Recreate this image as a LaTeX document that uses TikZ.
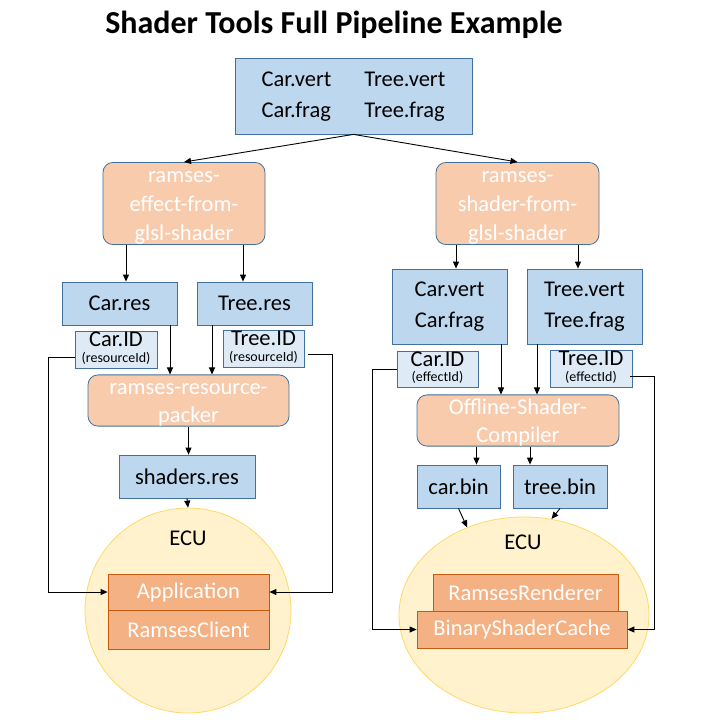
\documentclass[tikz,border=0pt]{standalone}
\usepackage{fontspec}
\setmainfont{Carlito}
\usetikzlibrary{arrows.meta,shapes.geometric}
\definecolor{boxblue}{HTML}{BDD7EE}
\definecolor{idblue}{HTML}{DEEBF7}
\definecolor{edgeblue}{HTML}{41719C}
\definecolor{toolorange}{HTML}{F8CBAD}
\definecolor{apporange}{HTML}{F4B183}
\definecolor{appedge}{HTML}{C55A11}
\definecolor{ecufill}{HTML}{FFF2CC}
\definecolor{ecuedge}{HTML}{FFD966}
\newcommand{\idtext}[2]{{\fontsize{14}{14}\selectfont\begin{tabular}{@{}c@{}}{\fontsize{22.5}{22.5}\selectfont #1}\\[1pt](#2)\end{tabular}}}
\begin{document}
\begin{tikzpicture}[x=1pt,y=-1pt,
  file/.style={draw=edgeblue,fill=boxblue,line width=0.8pt,inner sep=0pt,align=center,font=\fontsize{22.5}{31}\selectfont},
  idbox/.style={draw=edgeblue,fill=idblue,line width=0.8pt,inner sep=0pt},
  tool/.style={draw=edgeblue,fill=toolorange,rounded corners=10pt,line width=0.8pt,inner sep=0pt,text=white,align=center,font=\fontsize{22.5}{28}\selectfont},
  ecu/.style={ellipse,draw=ecuedge,fill=ecufill,line width=0.8pt,inner sep=0pt},
  part/.style={draw=appedge,fill=apporange,line width=0.8pt,inner sep=0pt,text=white,font=\fontsize{22.5}{27}\selectfont},
  arr/.style={-{Triangle[length=7pt,width=6pt]},line width=0.9pt}]
\useasboundingbox (0,0) rectangle (704,720);
\node[anchor=base,font=\fontsize{32}{38}\selectfont\bfseries] (title) at (334,33) {Shader Tools Full Pipeline Example};
% sources and the two converters
\node[file,minimum width=237pt,minimum height=76pt] (src) at (353.5,96) {\begin{tabular}{@{}l@{\hspace{33pt}}l@{}}Car.vert & Tree.vert\\Car.frag & Tree.frag\end{tabular}};
\node[tool,minimum width=162pt,minimum height=81pt,font=\fontsize{22.5}{29}\selectfont] (effect) at (184,203.5) {\strut ramses-\\effect-from-\\glsl-shader};
\node[tool,minimum width=163pt,minimum height=81pt,font=\fontsize{22.5}{29}\selectfont] (shader) at (517.5,203.5) {\strut ramses-\\shader-from-\\glsl-shader};
\draw[arr] (src.south) -- (effect.north);
\draw[arr] (src.south) -- (shader.north);
% left branch
\node[file,minimum width=115pt,minimum height=43pt] (carres) at (119.5,303.5) {Car.res};
\node[file,minimum width=115pt,minimum height=43pt] (treeres) at (254.5,303.5) {Tree.res};
\node[idbox,minimum width=82pt,minimum height=37pt] (carid) at (116,349.5) {\idtext{Car.ID}{resourceId}};
\node[idbox,minimum width=81pt,minimum height=37pt] (treeid) at (263.5,348.5) {\idtext{Tree.ID}{resourceId}};
\node[tool,minimum width=201pt,minimum height=47pt] (packer) at (188.5,400.5) {\strut ramses-resource-\\packer};
\node[file,minimum width=136pt,minimum height=43pt] (shaders) at (187,476.5) {shaders.res};
\node[ecu,minimum width=206pt,minimum height=205pt] (ecuL) at (188,610.5) {};
\node[font=\fontsize{22.5}{27}\selectfont] (ecuLname) at (188,538) {ECU};
\node[part,minimum width=161pt,minimum height=36pt] (app) at (188.5,592) {Application};
\node[part,minimum width=161pt,minimum height=39pt] (client) at (188.5,629.5) {RamsesClient};
\draw[arr] ([xshift=6.5pt]carres.north |- effect.south) -- ([xshift=6.5pt]carres.north);
\draw[arr] ([xshift=-11.5pt]treeres.north |- effect.south) -- ([xshift=-11.5pt]treeres.north);
\draw[arr] ([xshift=-18.5pt]packer.north |- carres.south) -- ([xshift=-18.5pt]packer.north);
\draw[arr] ([xshift=23.5pt]packer.north |- treeres.south) -- ([xshift=23.5pt]packer.north);
\draw[arr] (packer.south) -- (packer.south |- shaders.north);
\draw[arr] (shaders.south) -- (ecuL.north);
\draw[arr] ([yshift=-7.5pt]carid.west) -- ++(-26,0) |- (app.west);
\draw[arr] ([xshift=4pt,yshift=-5.5pt]treeid.east) -- ++(24,0) |- (app.east);
% right branch
\node[file,minimum width=115pt,minimum height=75pt] (carsrc) at (449.5,306.5) {Car.vert\\Car.frag};
\node[file,minimum width=115pt,minimum height=75pt] (treesrc) at (584.5,306.5) {Tree.vert\\Tree.frag};
\node[idbox,minimum width=81pt,minimum height=36pt] (careff) at (437.5,369) {\idtext{Car.ID}{effectId}};
\node[idbox,minimum width=82pt,minimum height=37pt] (treeeff) at (591,368.5) {\idtext{Tree.ID}{effectId}};
\node[tool,minimum width=202pt,minimum height=47pt] (compiler) at (518,420.5) {\strut Offline-Shader-\\Compiler};
\node[file,minimum width=83pt,minimum height=43pt] (carbin) at (458.5,486.5) {car.bin};
\node[file,minimum width=94pt,minimum height=43pt] (treebin) at (560,486.5) {tree.bin};
\node[ecu,minimum width=250pt,minimum height=196pt] (ecuR) at (524,615) {};
\node[font=\fontsize{22.5}{27}\selectfont] (ecuRname) at (523,542) {ECU};
\node[part,minimum width=185pt,minimum height=37pt] (renderer) at (525.5,592.5) {RamsesRenderer};
\node[part,minimum width=210pt,minimum height=37pt] (cache) at (522,629.5) {BinaryShaderCache};
\draw[arr] ([xshift=6.5pt]carsrc.north |- shader.south) -- ([xshift=6.5pt]carsrc.north);
\draw[arr] ([xshift=-6.5pt]treesrc.north |- shader.south) -- ([xshift=-6.5pt]treesrc.north);
\draw[arr] ([xshift=-17pt]compiler.north |- carsrc.south) -- ([xshift=-17pt]compiler.north);
\draw[arr] ([xshift=19pt]compiler.north |- treesrc.south) -- ([xshift=19pt]compiler.north);
\draw[arr] ([xshift=18pt]carbin.north |- compiler.south) -- ([xshift=18pt]carbin.north);
\draw[arr] ([xshift=-30pt]treebin.north |- compiler.south) -- ([xshift=-30pt]treebin.north);
\draw[arr] (carbin.south) -- (ecuR.123);
\draw[arr] (treebin.south) -- (ecuR.74);
\draw[arr] (careff.west) -- ++(-24,0) |- (cache.west);
\draw[arr] ([yshift=-7.5pt,xshift=-2pt]treeeff.east) -- ++(24,0) |- (cache.east);
\end{tikzpicture}
\end{document}
